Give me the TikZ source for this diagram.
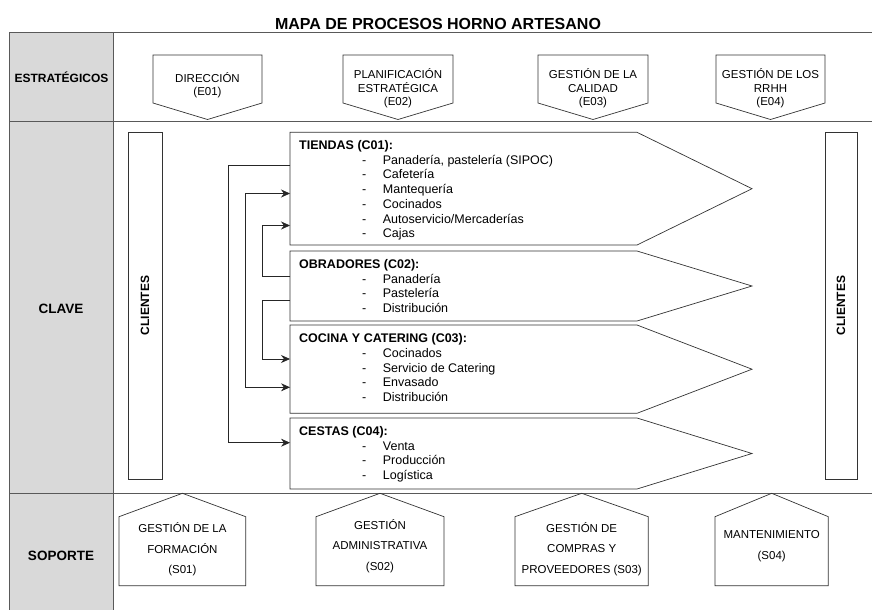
\documentclass[tikz,border=0pt]{standalone}
\usepackage{fontspec}
\setmainfont{Liberation Sans}
\usetikzlibrary{arrows.meta}
\definecolor{rowgray}{HTML}{D9D9D9}

\newcommand{\itm}[1]{\makebox[83.7pt][l]{\hspace*{63pt}-}#1}

\begin{document}
\begin{tikzpicture}[x=1pt,y=-1pt,
  tabla/.style={draw=black!65, line width=0.8pt},
  caja/.style={draw=black!80, line width=0.7pt},
  flecha/.style={draw=black!85, line width=0.7pt, -{Stealth[length=9pt,width=8pt,inset=3pt]}},
  flechadoble/.style={flecha, {Stealth[length=9pt,width=8pt,inset=3pt]}-{Stealth[length=9pt,width=8pt,inset=3pt]}},
  grupo/.style={font=\bfseries\fontsize{12}{14}\selectfont, inner sep=0pt},
  proceso/.style={align=center, inner sep=0pt, font=\fontsize{11.5}{13.5}\selectfont},
  apoyo/.style={align=center, inner sep=0pt, font=\fontsize{11.5}{20.5}\selectfont},
  clave/.style={align=left, inner sep=0pt, anchor=north west, font=\fontsize{12.5}{14.7}\selectfont},
  cliente/.style={font=\bfseries\fontsize{12}{14}\selectfont, rotate=90, inner sep=0pt}]
\useasboundingbox (0,0) rectangle (872,610);
%title
\node[font=\bfseries\fontsize{16}{18}\selectfont] (titulo) at (438,23.5) {MAPA DE PROCESOS HORNO ARTESANO};
%table
\fill[rowgray] (9.5,32.7) rectangle (113.3,610);
\draw[tabla] (872,32.7) -- (9.5,32.7) -- (9.5,610);
\draw[tabla] (113.3,32.7) -- (113.3,610);
\draw[tabla] (9.5,121.7) -- (872,121.7);
\draw[tabla] (9.5,493.3) -- (872,493.3);
\node[grupo] (estr) at (61.5,77) {ESTRATÉGICOS};
\node[grupo, font=\bfseries\fontsize{13.5}{15}\selectfont] (clv) at (61,309) {CLAVE};
\node[grupo, font=\bfseries\fontsize{13.5}{15}\selectfont] (sop) at (61,555.7) {SOPORTE};
%estrategicos
\draw[caja] (153,55) -- (262,55) -- (262,103) -- (207.5,119.5) -- (153,103) -- cycle;
\draw[caja] (343,55) -- (453,55) -- (453,103) -- (398,119.5) -- (343,103) -- cycle;
\draw[caja] (538,55) -- (648,55) -- (648,103) -- (593,119.5) -- (538,103) -- cycle;
\draw[caja] (716,55) -- (825,55) -- (825,103) -- (770.5,119.5) -- (716,103) -- cycle;
\node[proceso] (e01) at (207.5,85) {DIRECCIÓN\\(E01)};
\node[proceso] (e02) at (398,88.5) {PLANIFICACIÓN\\ESTRATÉGICA\\(E02)};
\node[proceso] (e03) at (593,88.5) {GESTIÓN DE LA\\CALIDAD\\(E03)};
\node[proceso] (e04) at (770.5,88.5) {GESTIÓN DE LOS\\RRHH\\(E04)};
%clientes
\draw[caja] (128,132) rectangle (162,479);
\node[cliente] (cli1) at (145,305.5) {CLIENTES};
\draw[caja] (825,132.5) rectangle (857,479);
\node[cliente] (cli2) at (841,305.5) {CLIENTES};
%procesos clave
\draw[caja] (290,132.3) -- (637,132.3) -- (752,188.7) -- (637,245) -- (290,245) -- cycle;
\draw[caja] (290,251) -- (637,251) -- (752,286) -- (637,321) -- (290,321) -- cycle;
\draw[caja] (290,325) -- (637,325) -- (752,369.2) -- (637,413.3) -- (290,413.3) -- cycle;
\draw[caja] (290,418) -- (637,418) -- (752,453.5) -- (637,489) -- (290,489) -- cycle;
\node[clave] (c01) at (299,140.3) {\textbf{TIENDAS (C01):}\\
  \itm{Panadería, pastelería (SIPOC)}\\ \itm{Cafetería}\\ \itm{Mantequería}\\
  \itm{Cocinados}\\ \itm{Autoservicio/Mercaderías}\\ \itm{Cajas}};
\node[clave] (c02) at (299,259.3) {\textbf{OBRADORES (C02):}\\
  \itm{Panadería}\\ \itm{Pastelería}\\ \itm{Distribución}};
\node[clave] (c03) at (299,333.6) {\textbf{COCINA Y CATERING (C03):}\\
  \itm{Cocinados}\\ \itm{Servicio de Catering}\\ \itm{Envasado}\\ \itm{Distribución}};
\node[clave] (c04) at (299,426.3) {\textbf{CESTAS (C04):}\\
  \itm{Venta}\\ \itm{Producción}\\ \itm{Logística}};
%flujos
\coordinate (c01s) at (290,165.7);
\coordinate (c01m) at (290,193.5);
\coordinate (c01e) at (290,225.5);
\coordinate (c02n) at (290,276.7);
\coordinate (c02s) at (290,300.8);
\coordinate (c03n) at (290,359);
\coordinate (c03s) at (290,387.3);
\coordinate (c04n) at (290,442.7);
\draw[flecha] (c01s) -- ++(-61.7,0) |- (c04n);
\draw[flechadoble] (c01m) -- ++(-44.5,0) |- (c03s);
\draw[flecha] (c02n) -- ++(-27.7,0) |- (c01e);
\draw[flecha] (c02s) -- ++(-27.7,0) |- (c03n);
%soporte
\draw[caja] (119,585.7) -- (119,516.7) -- (182.4,493.3) -- (245.7,516.7) -- (245.7,585.7) -- cycle;
\draw[caja] (316,585.7) -- (316,516.7) -- (380,493.3) -- (444,516.7) -- (444,585.7) -- cycle;
\draw[caja] (515,585.7) -- (515,516.7) -- (581.7,493.3) -- (648.3,516.7) -- (648.3,585.7) -- cycle;
\draw[caja] (715,585.7) -- (715,516.7) -- (771.7,493.3) -- (828.3,516.7) -- (828.3,585.7) -- cycle;
\node[apoyo] (s01) at (182.4,549.6) {GESTIÓN DE LA\\FORMACIÓN\\(S01)};
\node[apoyo] (s02) at (380,546) {GESTIÓN\\ADMINISTRATIVA\\(S02)};
\node[apoyo] (s03) at (581.7,548.8) {GESTIÓN DE\\COMPRAS Y\\PROVEEDORES (S03)};
\node[apoyo] (s04) at (771.7,546.3) {MANTENIMIENTO\\(S04)};
\end{tikzpicture}
\end{document}
